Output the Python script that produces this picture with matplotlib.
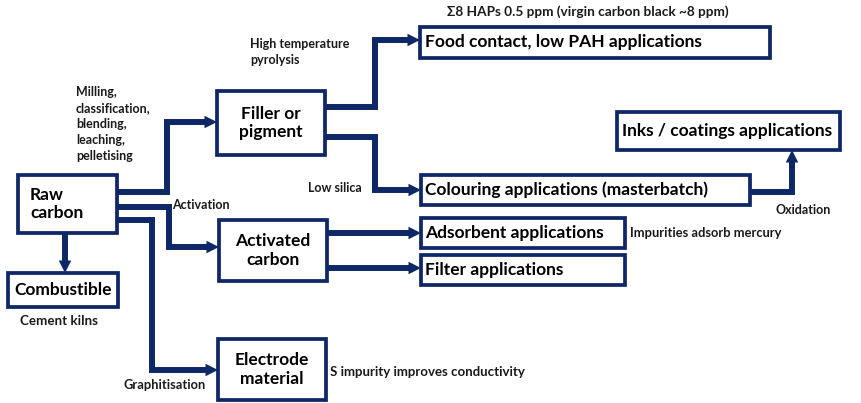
import matplotlib.pyplot as plt
from matplotlib.patches import Rectangle

plt.rcParams['font.family'] = ['Lato', 'DejaVu Sans']

NAVY = '#0e2766'

# box labels
box_labels = [
    "Raw\ncarbon", "Filler or\npigment", "Activated\ncarbon", "Combustible",
    "Electrode\nmaterial", "Food contact, low PAH applications",
    "Inks / coatings applications", "Colouring applications (masterbatch)",
    "Adsorbent applications", "Filter applications",
]
# process / annotation labels
notes = [
    "Σ8 HAPs 0.5 ppm (virgin carbon black ~8 ppm)",
    "High temperature\npyrolysis",
    "Milling,\nclassification,\nblending,\nleaching,\npelletising",
    "Activation", "Low silica", "Oxidation", "Impurities adsorb mercury",
    "Cement kilns", "Graphitisation", "S impurity improves conductivity",
]

# layout in pixel coordinates: (x0, y0, x1, y1, text x, align)
box_pos = [
    (18, 175, 117, 233, 30, 'left'),
    (217, 91, 325, 155, None, 'center'),
    (219, 220, 327, 281, None, 'center'),
    (8, 273, 118, 307, None, 'center'),
    (218, 339, 326, 400, None, 'center'),
    (420, 27, 770, 58, 425, 'left'),
    (617, 112, 840, 150, 622, 'left'),
    (421, 175, 750, 205, 425, 'left'),
    (421, 218, 625, 248, 425, 'left'),
    (421, 255, 625, 285, 425, 'left'),
]
# (x, y, fontsize)
note_pos = [
    (447, 12, 9.8), (250, 52, 9.0), (76, 124, 9.0), (172, 205, 9.0),
    (308, 188, 9.0), (775, 210, 9.0), (630, 233, 9.3),
    (20, 321, 9.6), (124, 385, 9.3), (330, 372, 9.5),
]
# connector paths, last point gets the arrow head
paths = [
    [(117, 192), (167, 192), (167, 122), (217, 122)],
    [(117, 207), (169, 207), (169, 247), (219, 247)],
    [(117, 220), (152, 220), (152, 370), (218, 370)],
    [(65, 233), (65, 273)],
    [(325, 107), (375, 107), (375, 40), (420, 40)],
    [(325, 137), (375, 137), (375, 190), (421, 190)],
    [(750, 192), (792, 192), (792, 150)],
    [(327, 233), (421, 233)],
    [(327, 268), (421, 268)],
]

fig = plt.figure(figsize=(8.61, 4.03), dpi=100)
ax = fig.add_axes([0, 0, 1, 1])
ax.set_xlim(0, 861)
ax.set_ylim(403, 0)
ax.axis('off')

for path in paths:
    xs = [p[0] for p in path]
    ys = [p[1] for p in path]
    ax.plot(xs[:-1] + [xs[-1] - 12 * (xs[-1] > xs[-2]) + 12 * (xs[-1] < xs[-2])],
            ys[:-1] + [ys[-1] - 12 * (ys[-1] > ys[-2]) + 12 * (ys[-1] < ys[-2])],
            color=NAVY, lw=4.3, solid_joinstyle='miter', solid_capstyle='butt')
    ax.annotate('', xy=path[-1], xytext=path[-2],
                arrowprops=dict(arrowstyle='-|>,head_length=0.9,head_width=0.45',
                                color=NAVY, lw=0, shrinkA=0, shrinkB=0))

for label, (x0, y0, x1, y1, tx, ha) in zip(box_labels, box_pos):
    ax.add_patch(Rectangle((x0, y0), x1 - x0, y1 - y0, facecolor='white',
                           edgecolor=NAVY, lw=2.7))
    if tx is None:
        tx = (x0 + x1) / 2
    ax.text(tx, (y0 + y1) / 2, label, ha=ha, va='center', fontsize=12.5,
            fontweight='bold', color='black', linespacing=1.2)

for label, (x, y, fs) in zip(notes, note_pos):
    ax.text(x, y, label, ha='left', va='center', fontsize=fs, fontweight='bold',
            color='#1a1a1a', linespacing=1.4)

fig.savefig('out.png', dpi=100)
